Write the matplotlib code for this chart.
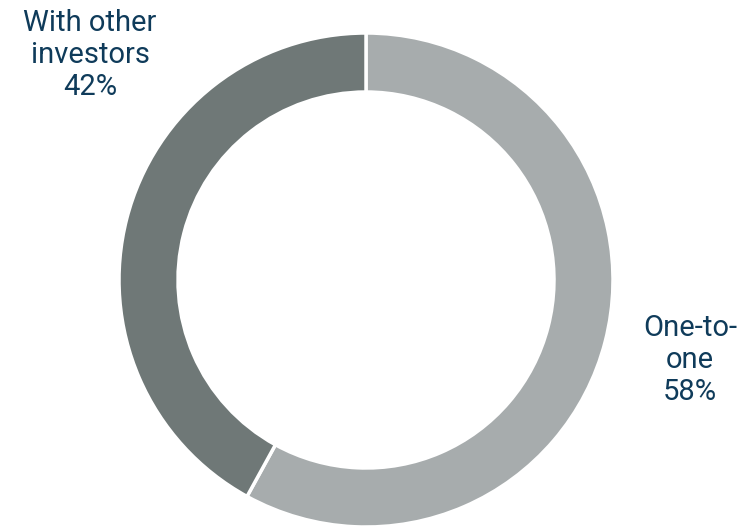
import matplotlib.pyplot as plt

labels = ['One-to-one', 'With other investors']
shares = [58, 42]
colors = ['#a7acad', '#6f7877']

fig = plt.figure(figsize=(7.44, 5.28), dpi=100)
ax = fig.add_axes([0, 0, 1, 1])

ax.pie(shares, colors=colors, startangle=90, counterclock=False,
       center=(366, 248), radius=247,
       wedgeprops=dict(width=59, edgecolor='white', linewidth=2.5))
ax.set_xlim(0, 744)
ax.set_ylim(0, 528)
ax.set_aspect('equal')
ax.axis('off')

txt = '#0f3b5a'
ax.text(90, 473, 'With other\ninvestors\n' + str(shares[1]) + '%', ha='center', va='center',
        fontsize=21, color=txt, family='Roboto', linespacing=1.17)
ax.text(690, 168, 'One-to-\none\n' + str(shares[0]) + '%', ha='center', va='center',
        fontsize=21, color=txt, family='Roboto', linespacing=1.17)

fig.savefig('out.png', dpi=100)
